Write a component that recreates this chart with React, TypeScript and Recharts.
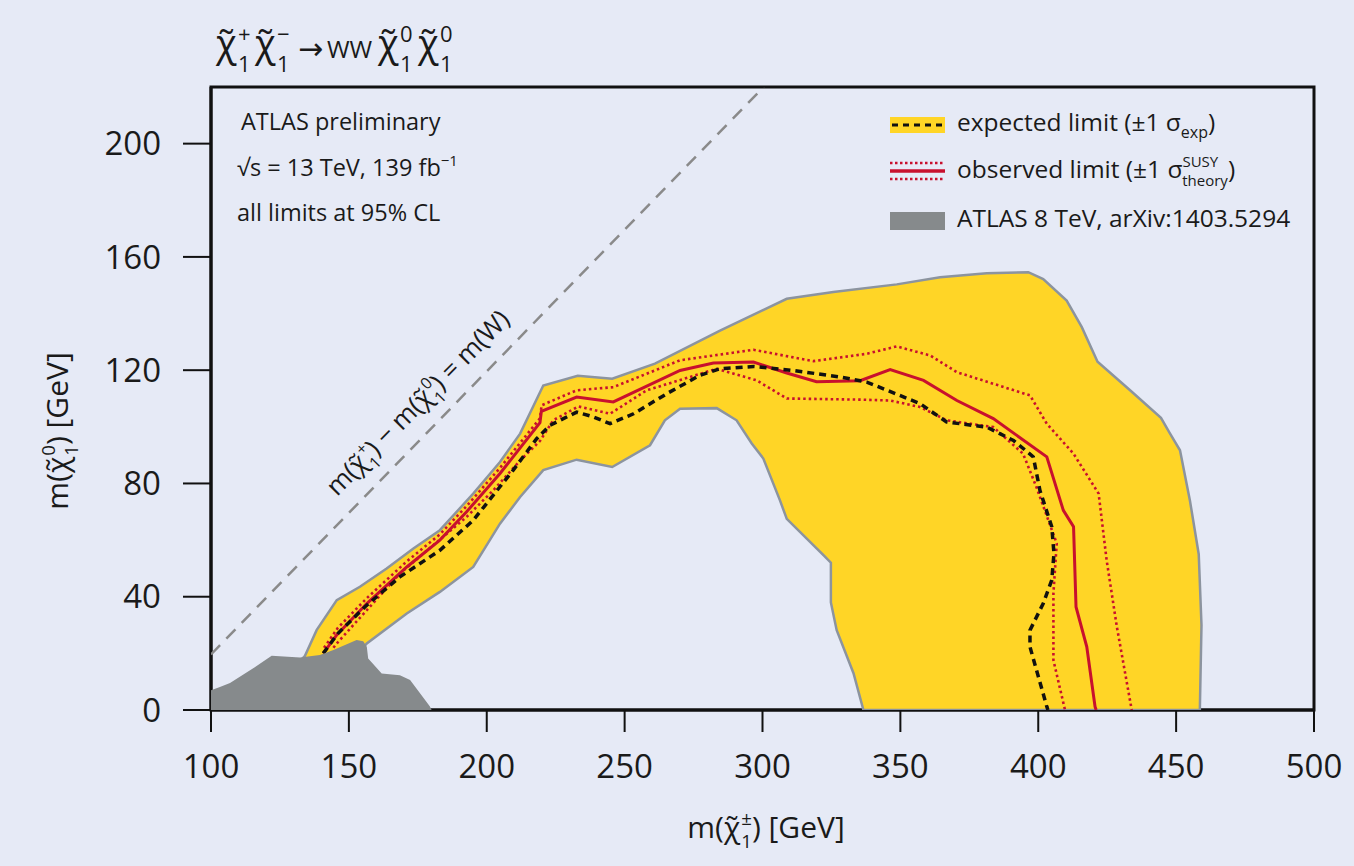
import React from "react";
import { ComposedChart, Scatter, XAxis, YAxis, ReferenceArea } from "recharts";

type Pt = [number, number];

const xTicks = [100, 150, 200, 250, 300, 350, 400, 450, 500];
const yTicks = [0, 40, 80, 120, 160, 200];
const mW = 80.4;

// yellow +-1 sigma_exp band, closed polygon (outer edge then inner edge)
const expectedBand: Pt[] = [
  [132, 17], [134, 19], [138.3, 28.2], [145.6, 38.8], [154, 43.5], [163.7, 50],
  [173.4, 57], [183, 63.5], [195.1, 76.4], [204.8, 87.6], [212.1, 97.6], [220.5, 114.6],
  [233, 118], [245.5, 117], [261, 122.3], [284.6, 134], [308.8, 145.2], [325.7, 147.6],
  [348.7, 150.3], [364.4, 152.8], [381.3, 154.2], [396.4, 154.6], [401.8, 152.2],
  [410.3, 144.6], [415.8, 135.2], [421.5, 123], [433.3, 112.9], [444.5, 103.2],
  [447.8, 97.6], [451.4, 91.7], [455, 74], [458.2, 55], [459.2, 30], [458.6, 0],
  [336.6, 0], [333, 13], [326.9, 28.2], [324.8, 38], [324.8, 52], [322.1, 54.7],
  [308.8, 67.5], [306.3, 74.1], [300.3, 88.8], [296.1, 94.1], [290.6, 102.3],
  [283.4, 106.6], [270.1, 106.4], [264.6, 102.3], [259.2, 93.5], [245.5, 85.8],
  [232.6, 88.4], [220.5, 84.7], [212.1, 75.2], [204.8, 65.8], [195.1, 50.5],
  [183, 41.7], [171, 34.1], [156.5, 23.5], [148, 14],
];

// ATLAS 8 TeV excluded region
const atlas8TeV: Pt[] = [
  [100, 0], [100, 7], [103, 8], [106.9, 9.5], [115.3, 14.7], [122, 19.2], [132.3, 18.5],
  [139.5, 19.4], [144.4, 21.2], [152.8, 24.7], [155.2, 24.3], [156.5, 22.3], [157, 18.2],
  [161.9, 12.9], [168.5, 12.3], [172.2, 10.6], [179.4, 1.2], [180, 0],
];

const expected: Pt[] = [
  [140.7, 20], [146, 27], [155.8, 36.4], [168.5, 47], [183, 56.4], [195.1, 67],
  [209.6, 84.7], [218.1, 95.8], [222.9, 100.5], [232.6, 105.2], [238.7, 103.5],
  [244.7, 101.1], [253.2, 104.6], [265.3, 111.7], [277.3, 118.2], [284.6, 120.5],
  [296.7, 121.3], [311.2, 119.9], [328.1, 117.6], [337.8, 115.8], [357.1, 108.2],
  [366.8, 101.7], [381.3, 99.9], [391, 95.2], [398.2, 89.4], [400.6, 77.6],
  [404.9, 64.7], [405.7, 55.3], [404.9, 45.9], [401.8, 37.6], [397, 28.2],
  [397, 22.3], [403.1, 1.2], [403.5, 0],
];

const observed: Pt[] = [
  [140.7, 20], [145.6, 26.5], [156.5, 37.6], [171, 50.5], [183, 60], [192.7, 70],
  [204.8, 83.5], [219.3, 101.5], [219.8, 105.5], [232.6, 110.5], [245.9, 108.8],
  [270.1, 119.9], [282.2, 122.5], [296.7, 122.9], [308.8, 119], [319.6, 115.9],
  [335.4, 116.3], [346.3, 120.2], [358.4, 116.4], [370.5, 109.3], [383.7, 102.9],
  [403.1, 89.4], [409.1, 70.5], [412.8, 64.7], [413.7, 36.4], [417.6, 22.3],
  [420.6, 1.2], [421, 0],
];

const observedUp: Pt[] = [
  [141, 22], [146, 29], [156.5, 39.5], [171, 52.5], [183, 62], [192.7, 72],
  [204.8, 85.5], [219.3, 103], [219.9, 107.6], [232.6, 112.9], [245.9, 114],
  [270.1, 123.5], [296.7, 127.2], [318.4, 123.2], [337.8, 125.8], [348.7, 128.4],
  [360.8, 125.2], [370.5, 119.3], [383.7, 115.2], [397, 111.1], [403.1, 101.1],
  [412.8, 90.5], [421.9, 76.4], [424.8, 52.9], [428.5, 29.4], [433.9, 0],
];

const observedDown: Pt[] = [
  [144.4, 22], [145.6, 23.5], [168.5, 48.2], [192.7, 68.2], [202.4, 77.6],
  [212, 88], [219.3, 95], [224.1, 102.3], [233.2, 107.2], [244.7, 104.6],
  [258, 112.9], [283.4, 120.5], [297.9, 116.4], [308.8, 110], [335.4, 109.6],
  [346.3, 109.3], [357.1, 107], [366.8, 102.3], [383.7, 99.9], [394.5, 90.5],
  [399.3, 78.8], [406.7, 58.8], [405.5, 41.2], [405.5, 17.6], [409.7, 0],
];

// m(chi+) - m(chi0) = m(W)
const kinematicLimit: Pt[] = [[100, 100 - mW], [220 + mW, 220]];

const rows = (pts: Pt[]) => pts.map(([x, y]) => ({ x, y }));

const BG = "#E6EAF6";
const YELLOW = "#FFD526";
const BAND_EDGE = "#8C949F";
const GRAY = "#868A8C";
const RED = "#C8102E";
const FONT = '"Open Sans", "DejaVu Sans", sans-serif';

const noDot = () => <g />;

// chi-tilde with stacked superscript / subscript 1 (flowing inside a <text>)
function chiSpans(fs: number, sup: string, back = 0) {
  const s = fs * 0.62;
  return (
    <>
      <tspan dy={back}>{"\u03C7\u0303"}</tspan>
      <tspan dx={1} dy={-0.42 * fs} fontSize={s}>{sup}</tspan>
      <tspan dx={-0.572 * s} dy={0.75 * fs} fontSize={s}>1</tspan>
    </>
  );
}

// free standing chi-tilde for the title
const TitleChi = ({ x, sup }: { x: number; sup: string }) => (
  <>
    <text x={x} y={57} fontSize={38}>{"\u03C7\u0303"}</text>
    <text x={x + 22} y={42} fontSize={22}>{sup}</text>
    <text x={x + 22} y={72} fontSize={22}>1</text>
  </>
);

const Overlay = () => {
  const lf = 30;
  const df = 26;
  const gf = 24.5;
  const af = 23.5;
  return (
    <svg
      width={1354}
      height={866}
      style={{ position: "absolute", left: 0, top: 0, pointerEvents: "none" }}
      fontFamily={FONT}
      fill="#1a1a1a"
    >
      {/* title */}
      <TitleChi x={216} sup="+" />
      <TitleChi x={255} sup={"\u2212"} />
      <text x={298} y={59} fontSize={30} fontFamily='"DejaVu Sans", sans-serif'>{"\u2192"}</text>
      <text x={327} y={58} fontSize={24.5}>WW</text>
      <TitleChi x={378} sup="0" />
      <TitleChi x={418} sup="0" />

      {/* axis titles */}
      <text x={766} y={838} fontSize={lf} textAnchor="middle">
        <tspan>m(</tspan>
        {chiSpans(lf, "\u00B1")}
        <tspan dy={-0.33 * lf}>) [GeV]</tspan>
      </text>
      <g transform="translate(68,431) rotate(-90)">
        <text x={0} y={0} fontSize={lf} textAnchor="middle">
          <tspan>m(</tspan>
          {chiSpans(lf, "0")}
          <tspan dy={-0.33 * lf}>) [GeV]</tspan>
        </text>
      </g>

      {/* kinematic line label */}
      <g transform="translate(337,497) rotate(-45.3)">
        <text x={0} y={0} fontSize={df}>
          <tspan>m(</tspan>
          {chiSpans(df, "+")}
          <tspan dy={-0.33 * df}>) {"\u2212"} m(</tspan>
          {chiSpans(df, "0")}
          <tspan dy={-0.33 * df}>) = m(W)</tspan>
        </text>
      </g>

      {/* ATLAS text */}
      <text x={241} y={130} fontSize={af}>ATLAS preliminary</text>
      <text x={237} y={176} fontSize={af}>
        <tspan>{"\u221As = 13 TeV, 139 fb"}</tspan>
        <tspan dy={-10} fontSize={15}>{"\u22121"}</tspan>
      </text>
      <text x={237} y={221} fontSize={af}>all limits at 95% CL</text>

      {/* legend */}
      <rect x={890} y={117} width={55} height={16} fill={YELLOW} />
      <line x1={892} x2={944} y1={125} y2={125} stroke="#111" strokeWidth={3} strokeDasharray="6 5" />
      <line x1={890} x2={945} y1={163} y2={163} stroke={RED} strokeWidth={2.4} strokeDasharray="2.5 2.5" />
      <line x1={890} x2={945} y1={171} y2={171} stroke={RED} strokeWidth={3.5} />
      <line x1={890} x2={945} y1={179} y2={179} stroke={RED} strokeWidth={2.4} strokeDasharray="2.5 2.5" />
      <rect x={890} y={212} width={55} height={18} fill={GRAY} />

      <text x={957} y={131} fontSize={gf}>
        <tspan>expected limit (±1 σ</tspan>
        <tspan dy={7} fontSize={16}>exp</tspan>
        <tspan dy={-7}>)</tspan>
      </text>
      <text x={957} y={178} fontSize={gf}>
        <tspan>observed limit (±1 σ</tspan>
        <tspan dy={-11} fontSize={15}>SUSY</tspan>
        <tspan dx={-36} dy={19} fontSize={15}>theory</tspan>
        <tspan dy={-8}>)</tspan>
      </text>
      <text x={957} y={227} fontSize={gf}>ATLAS 8 TeV, arXiv:1403.5294</text>
    </svg>
  );
};

export default function App() {
  return (
    <div style={{ position: "absolute", left: 0, top: 0, width: 1354, height: 866, background: BG }}>
      <ComposedChart width={1354} height={866} margin={{ top: 87, right: 40, bottom: 96, left: 111 }}>
        <XAxis
          type="number"
          dataKey="x"
          domain={[100, 500]}
          ticks={xTicks}
          interval={0}
          allowDataOverflow
          tickSize={22}
          tickMargin={23}
          height={60}
          axisLine={{ stroke: "#111", strokeWidth: 3 }}
          tickLine={{ stroke: "#111", strokeWidth: 2 }}
          tick={{ fontSize: 33, fill: "#1a1a1a", fontFamily: FONT }}
        />
        <YAxis
          type="number"
          dataKey="y"
          domain={[0, 220]}
          ticks={yTicks}
          interval={0}
          allowDataOverflow
          width={100}
          tickSize={28}
          tickMargin={22}
          axisLine={{ stroke: "#111", strokeWidth: 3 }}
          tickLine={{ stroke: "#111", strokeWidth: 2 }}
          tick={{ fontSize: 33, fill: "#1a1a1a", fontFamily: FONT }}
        />
        <Scatter
          data={rows(expectedBand)}
          shape={noDot}
          line={{ fill: YELLOW, stroke: BAND_EDGE, strokeWidth: 2.5 }}
          lineJointType="linearClosed"
          isAnimationActive={false}
        />
        <Scatter
          data={rows(observedUp)}
          shape={noDot}
          line={{ fill: "none", stroke: RED, strokeWidth: 2.6, strokeDasharray: "2.5 3" }}
          lineJointType="linear"
          isAnimationActive={false}
        />
        <Scatter
          data={rows(observedDown)}
          shape={noDot}
          line={{ fill: "none", stroke: RED, strokeWidth: 2.6, strokeDasharray: "2.5 3" }}
          lineJointType="linear"
          isAnimationActive={false}
        />
        <Scatter
          data={rows(observed)}
          shape={noDot}
          line={{ fill: "none", stroke: RED, strokeWidth: 3 }}
          lineJointType="linear"
          isAnimationActive={false}
        />
        <Scatter
          data={rows(expected)}
          shape={noDot}
          line={{ fill: "none", stroke: "#111", strokeWidth: 3.5, strokeDasharray: "7 5" }}
          lineJointType="linear"
          isAnimationActive={false}
        />
        <Scatter
          data={rows(atlas8TeV)}
          shape={noDot}
          line={{ fill: GRAY, stroke: "none" }}
          lineJointType="linearClosed"
          isAnimationActive={false}
        />
        <Scatter
          data={rows(kinematicLimit)}
          shape={noDot}
          line={{ fill: "none", stroke: "#8a8a8a", strokeWidth: 2.5, strokeDasharray: "13 9" }}
          lineJointType="linear"
          isAnimationActive={false}
        />
        <ReferenceArea x1={100} x2={500} y1={0} y2={220} fill="none" stroke="#111" strokeWidth={3} ifOverflow="visible" />
      </ComposedChart>
      <Overlay />
    </div>
  );
}
